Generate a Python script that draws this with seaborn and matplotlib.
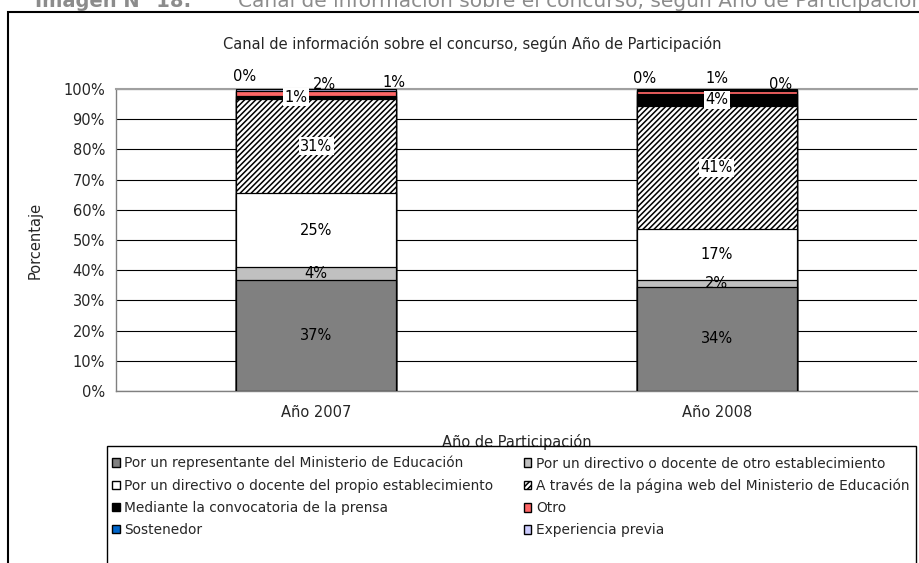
import numpy as np
import pandas as pd
import matplotlib
matplotlib.use("Agg")
import matplotlib.pyplot as plt
import seaborn as sns
from matplotlib.patches import Patch, Rectangle

# categories (bottom -> top of the stack)
categorias = [
    "Por un representante del Ministerio de Educación",
    "Por un directivo o docente de otro establecimiento",
    "Por un directivo o docente del propio establecimiento",
    "A través de la página web del Ministerio de Educación",
    "Mediante la convocatoria de la prensa",
    "Otro",
    "Sostenedor",
    "Experiencia previa",
]
anios = ["Año 2007", "Año 2008"]
valores_2007 = [36.6, 4.4, 24.6, 31.0, 1.2, 1.6, 0.0, 0.6]
valores_2008 = [34.5, 2.4, 16.6, 40.9, 4.0, 1.1, 0.2, 0.3]

colores = ["#808080", "#C0C0C0", "#FFFFFF", "#FFFFFF",
           "#000000", "#FF6666", "#0066CC", "#CCCCFF"]
tramas = ["", "", "", "//////", "", "", "", ""]

sns.set_style("white")
plt.rcParams["font.family"] = ["DejaVu Sans"]
plt.rcParams["hatch.linewidth"] = 1.1

FS = 10.5

df = pd.DataFrame({"anio": np.repeat(anios, len(categorias)),
                   "categoria": categorias * 2,
                   "valor": valores_2007 + valores_2008})
df["acum"] = df.groupby("anio")["valor"].cumsum()

W, H = 919, 563
fig = plt.figure(figsize=(W / 100, H / 100), dpi=100)
ax = fig.add_axes([116 / W, 1 - 391 / H, 801 / W, 302 / H])

# stacked bars: draw cumulative totals from the top layer down
for i in range(len(categorias) - 1, -1, -1):
    sub = df[df["categoria"] == categorias[i]]
    sns.barplot(data=sub, x="anio", y="acum", order=anios, color=colores[i],
                saturation=1, width=0.4, errorbar=None, edgecolor="black",
                linewidth=0.9, hatch=tramas[i] or None, zorder=3, ax=ax)

# data labels
pos_x = {a: k for k, a in enumerate(anios)}
ajustes = {  # (dx data, y) for the thin top segments
    ("Año 2007", 4): (-0.05, None), ("Año 2007", 5): (0.02, 101.5),
    ("Año 2007", 6): (-0.18, 104.0), ("Año 2007", 7): (0.195, 102.0),
    ("Año 2008", 5): (0.0, 103.5), ("Año 2008", 6): (-0.18, 103.5),
    ("Año 2008", 7): (0.16, 101.5),
}
con_caja = {3, 4}
for _, r in df.iterrows():
    i = categorias.index(r["categoria"])
    x = pos_x[r["anio"]]
    y = r["acum"] - r["valor"] / 2
    dx, yy = ajustes.get((r["anio"], i), (0.0, None))
    if yy is not None:
        y = yy
    caja = dict(facecolor="white", edgecolor="none", pad=1.0) if i in con_caja else None
    ax.text(x + dx, y, f"{r['valor']:.0f}%", ha="center", va="center",
            fontsize=FS, color="black", bbox=caja, zorder=5, clip_on=False)

ax.set_ylim(0, 100)
ax.set_xlim(-0.5, 1.5)
ax.set_yticks(range(0, 101, 10))
ax.set_yticklabels([f"{v}%" for v in range(0, 101, 10)], fontsize=FS)
ax.set_xticks([0, 1])
ax.set_xticklabels(anios, fontsize=FS)
ax.set_xticks([-0.5, 0.5, 1.5], minor=True)
ax.tick_params(axis="x", which="major", length=0, pad=10)
ax.tick_params(axis="x", which="minor", length=5, direction="out", color="#404040")
ax.tick_params(axis="y", length=5, direction="out", color="#404040", pad=3)
ax.yaxis.grid(True, color="black", linewidth=0.8, zorder=0)
ax.set_axisbelow(True)
for s in ["left", "bottom"]:
    ax.spines[s].set_color("#808080")
    ax.spines[s].set_linewidth(1.0)
ax.spines["top"].set_color("#A0A0A0")
ax.spines["top"].set_linewidth(1.5)
ax.spines["right"].set_visible(False)
ax.set_xlabel("Año de Participación", fontsize=FS, labelpad=10)
ax.set_ylabel("Porcentaje", fontsize=FS, labelpad=15)

fig.text(472 / W, 1 - 44 / H, "Canal de información sobre el concurso, según Año de Participación",
         ha="center", va="center", fontsize=FS)

# caption cut off at the top
fig.text(35 / W, 1 - 7 / H, "Imagen N° 18:", ha="left", va="baseline",
         fontsize=14, fontweight="bold", color="#8C8C8C")
fig.text(238 / W, 1 - 7 / H,
         "Canal de información sobre el concurso, según Año de Participación",
         ha="left", va="baseline", fontsize=14.5, color="#8C8C8C")

# outer chart frame
fig.add_artist(Rectangle((8 / W, -0.2), 1.0, 1.2 - 12 / H, transform=fig.transFigure,
                         fill=False, edgecolor="black", linewidth=1.5))
# legend frame (runs past the bottom edge)
fig.add_artist(Rectangle((107 / W, -0.2), 809 / W, 0.2 + 1 - 446 / H,
                         transform=fig.transFigure, fill=False,
                         edgecolor="black", linewidth=1.0))

orden = [0, 2, 4, 6, 1, 3, 5, 7]  # row-wise filling in two columns
handles = [Patch(facecolor=colores[i], edgecolor="black", hatch=tramas[i] or None,
                 label=categorias[i]) for i in orden]
leg = fig.legend(handles=handles, ncol=2, loc="upper left",
                 bbox_to_anchor=(112 / W, 1 - 456 / H), fontsize=9.9,
                 frameon=False, handlelength=0.55, handleheight=0.55,
                 handletextpad=0.35, columnspacing=2.2, labelspacing=0.59,
                 borderpad=0.0, borderaxespad=0)

fig.savefig("out.png", dpi=100)
